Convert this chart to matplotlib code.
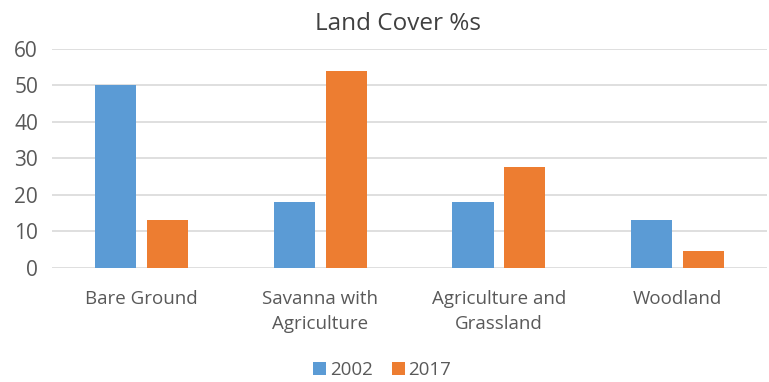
import matplotlib
matplotlib.use("Agg")
import matplotlib.pyplot as plt
import numpy as np

categories = ["Bare Ground", "Savanna with\nAgriculture", "Agriculture and\nGrassland", "Woodland"]
series_names = ["2002", "2017"]
values_2002 = [50, 18, 18, 13]
values_2017 = [13, 54, 27.5, 4.7]
yticks = [0, 10, 20, 30, 40, 50, 60]

plt.rcParams['font.family'] = ['Open Sans', 'DejaVu Sans']
txt = '#595959'

fig = plt.figure(figsize=(7.69, 3.82), dpi=100)
ax = fig.add_axes([0.0676, 0.299, 0.93, 0.573])

x = np.arange(len(categories))
w = 0.23
off = 0.145
ax.bar(x - off, values_2002, w, color='#5B9BD5', label=series_names[0], zorder=3)
ax.bar(x + off, values_2017, w, color='#ED7D31', label=series_names[1], zorder=3)

ax.set_xlim(-0.5, len(categories) - 0.5)
ax.set_ylim(0, 60)
ax.set_yticks(yticks)
ax.set_yticklabels([str(t) for t in yticks], fontsize=15, color=txt)
ax.set_xticks(x)
ax.set_xticklabels(categories, fontsize=13.5, color=txt, linespacing=1.5)
ax.tick_params(axis='x', length=0, pad=16)
ax.tick_params(axis='y', length=0, pad=10)
ax.grid(axis='y', color='#D9D9D9', linewidth=1.2, zorder=0)
for s in ax.spines.values():
    s.set_visible(False)

fig.text(0.518, 0.938, "Land Cover %s", ha='center', va='center', fontsize=17.5, color='#404040')

fig.legend(loc='center', bbox_to_anchor=(0.497, 0.031), ncol=2, frameon=False,
           fontsize=13.5, handlelength=0.7, handleheight=0.7, handletextpad=0.2,
           columnspacing=1.0, labelcolor=txt)

fig.savefig("out.png", dpi=100)
